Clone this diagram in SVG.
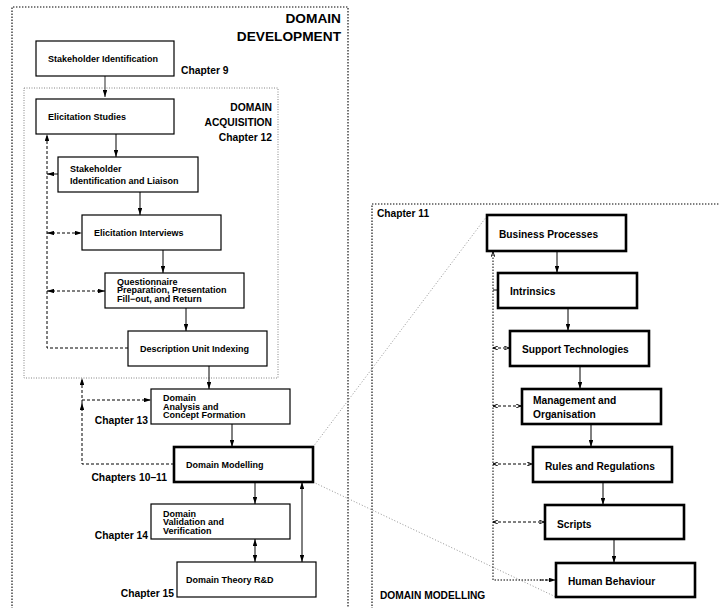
<svg xmlns="http://www.w3.org/2000/svg" width="720" height="608" viewBox="0 0 720 608">
<defs>
<style>
.bg{fill:#fff}
.n{fill:#fff;stroke:#000;stroke-width:1.2}
.nt{fill:#fff;stroke:#000;stroke-width:2.6}
.t{font-family:"Liberation Sans",Arial,sans-serif;font-weight:bold;font-size:9px;fill:#000}
.tr{font-family:"Liberation Sans",Arial,sans-serif;font-weight:bold;font-size:10.2px;fill:#000}
.ch{font-family:"Liberation Sans",Arial,sans-serif;font-weight:bold;font-size:10.3px;fill:#000}
.big{font-family:"Liberation Sans",Arial,sans-serif;font-weight:bold;font-size:13.7px;fill:#000}
.frame{fill:none;stroke:#000;stroke-width:1.1;stroke-dasharray:1.4,1.6}
.frame2{fill:none;stroke:#777;stroke-width:0.9;stroke-dasharray:1,1.5}
.zoom{fill:none;stroke:#888;stroke-width:0.9;stroke-dasharray:1,2}
.s{fill:none;stroke:#000;stroke-width:1}
.g{fill:none;stroke:#666;stroke-width:1.4}
.d{fill:none;stroke:#000;stroke-width:1;stroke-dasharray:3,2}
.dr{fill:none;stroke:#000;stroke-width:1;stroke-dasharray:1.5,1.5}
</style>
<marker id="a" viewBox="0 0 7 4.4" refX="7" refY="2.2" markerWidth="7" markerHeight="4.4" markerUnits="userSpaceOnUse" orient="auto-start-reverse"><path d="M0,0 L7,2.2 L0,4.4 z" fill="#000"/></marker>
<marker id="sm" viewBox="0 0 5 4" refX="5" refY="2" markerWidth="5" markerHeight="4" markerUnits="userSpaceOnUse" orient="auto-start-reverse"><path d="M0,0 L5,2 L0,4" fill="none" stroke="#000" stroke-width="0.9"/></marker>
</defs>
<rect class="bg" x="0" y="0" width="720" height="608"/>

<!-- frames -->
<g id="frames">
<path class="frame" d="M12,612 V7 H348 V612"/>
<rect class="frame2" x="24" y="88" width="254" height="290"/>
<path class="frame" d="M372,612 V204 H722"/>
<text class="big" x="341" y="23" text-anchor="end">DOMAIN</text>
<text class="big" x="341" y="41" text-anchor="end">DEVELOPMENT</text>
<text class="ch" x="272" y="111" text-anchor="end">DOMAIN</text>
<text class="ch" x="272" y="126" text-anchor="end">ACQUISITION</text>
<text class="ch" x="272" y="141" text-anchor="end">Chapter 12</text>
<text class="ch" x="181" y="74">Chapter 9</text>
<text class="ch" x="148" y="424" text-anchor="end">Chapter 13</text>
<text class="ch" x="167" y="481" text-anchor="end">Chapters 10–11</text>
<text class="ch" x="148" y="539" text-anchor="end">Chapter 14</text>
<text class="ch" x="174" y="597" text-anchor="end">Chapter 15</text>
<text class="tr" x="377" y="217">Chapter 11</text>
<text class="tr" x="380" y="599">DOMAIN MODELLING</text>
</g>

<!-- connectors -->
<g id="connectors">
<path class="zoom" d="M313,447 L487,216"/>
<path class="zoom" d="M313,482 L556,597"/>
<path class="g" d="M105,76 V97" marker-end="url(#a)"/>
<path class="s" d="M116,134 V157" marker-end="url(#a)"/>
<path class="s" d="M140,192 V215" marker-end="url(#a)"/>
<path class="s" d="M163,250 V273" marker-end="url(#a)"/>
<path class="s" d="M186,308 V331" marker-end="url(#a)"/>
<path class="s" d="M209,366 V389" marker-end="url(#a)"/>
<path class="s" d="M232,424 V447" marker-end="url(#a)"/>
<path class="s" d="M255,482 V504" marker-end="url(#a)"/>
<path class="s" d="M255,539 V562" marker-start="url(#a)" marker-end="url(#a)"/>
<path class="s" d="M302,482 V562" marker-start="url(#a)" marker-end="url(#a)"/>
<!-- left feedback -->
<path class="d" d="M128,348 H47 V134" marker-end="url(#a)"/>
<path class="s" d="M47,174 H58" stroke-width="1.4" marker-start="url(#a)"/>
<path class="d" d="M47,233 H82" marker-start="url(#a)" marker-end="url(#a)"/>
<path class="d" d="M47,291 H105" marker-start="url(#a)" marker-end="url(#a)"/>
<!-- middle feedback -->
<path class="d" d="M174,464 H82 V403" marker-end="url(#a)"/>
<path class="d" d="M82,403 V378" marker-end="url(#a)"/>
<path class="d" d="M82,400 H151" marker-end="url(#a)"/>
<!-- right chain -->
<path class="s" d="M557,251 V273" marker-end="url(#a)"/>
<path class="s" d="M568,308 V331" marker-end="url(#a)"/>
<path class="s" d="M580,366 V389" marker-end="url(#a)"/>
<path class="s" d="M591,424 V447" marker-end="url(#a)"/>
<path class="s" d="M603,482 V505" marker-end="url(#a)"/>
<path class="s" d="M614,539 V563" marker-end="url(#a)"/>
<!-- right feedback -->
<path class="dr" d="M556,580 H493 V252" marker-end="url(#sm)"/>
<path class="s" d="M493,290 H498" stroke-width="1.6"/>
<path class="d" d="M493,348 H509" marker-start="url(#sm)" marker-end="url(#sm)"/>
<path class="d" d="M493,406 H521" marker-start="url(#sm)" marker-end="url(#sm)"/>
<path class="d" d="M493,464 H532" marker-start="url(#sm)" marker-end="url(#sm)"/>
<path class="d" d="M493,522 H544" marker-start="url(#sm)" marker-end="url(#sm)"/>
<path class="d" d="M540,580 H556" marker-end="url(#a)"/>
</g>

<!-- left nodes -->
<g id="n-stakeholder-identification"><rect class="n" x="36" y="41" width="138" height="35"/><text class="t" x="48" y="62">Stakeholder Identification</text></g>
<g id="n-elicitation-studies"><rect class="n" x="36" y="99" width="138" height="35"/><text class="t" x="48" y="120">Elicitation Studies</text></g>
<g id="n-stakeholder-liaison"><rect class="n" x="58" y="157" width="140" height="35"/><text class="t" x="70" y="172">Stakeholder</text><text class="t" x="70" y="184">Identification and Liaison</text></g>
<g id="n-elicitation-interviews"><rect class="n" x="82" y="215" width="139" height="35"/><text class="t" x="94" y="236">Elicitation Interviews</text></g>
<g id="n-questionnaire"><rect class="n" x="105" y="273" width="139" height="35"/><text class="t" x="117" y="284.5">Questionnaire</text><text class="t" x="117" y="293">Preparation, Presentation</text><text class="t" x="117" y="301.5">Fill−out, and Return</text></g>
<g id="n-description-unit-indexing"><rect class="n" x="128" y="331" width="139" height="35"/><text class="t" x="140" y="352">Description Unit Indexing</text></g>
<g id="n-domain-analysis"><rect class="n" x="151" y="389" width="139" height="35"/><text class="t" x="163" y="401">Domain</text><text class="t" x="163" y="409.5">Analysis and</text><text class="t" x="163" y="418">Concept Formation</text></g>
<g id="n-domain-modelling"><rect class="nt" x="174" y="447" width="139" height="35"/><text class="t" x="186" y="467.5">Domain Modelling</text></g>
<g id="n-domain-validation"><rect class="n" x="151" y="504" width="139" height="35"/><text class="t" x="163" y="516.5">Domain</text><text class="t" x="163" y="525">Validation and</text><text class="t" x="163" y="533.5">Verification</text></g>
<g id="n-domain-theory"><rect class="n" x="177" y="562" width="139" height="35"/><text class="t" x="186" y="583">Domain Theory R&amp;D</text></g>

<!-- right nodes -->
<g id="n-business-processes"><rect class="nt" x="487" y="215" width="139" height="36"/><text class="tr" x="499" y="238">Business Processes</text></g>
<g id="n-intrinsics"><rect class="nt" x="498" y="273" width="139" height="35"/><text class="tr" x="510" y="295">Intrinsics</text></g>
<g id="n-support-technologies"><rect class="nt" x="510" y="331" width="139" height="35"/><text class="tr" x="522" y="353">Support Technologies</text></g>
<g id="n-management"><rect class="nt" x="522" y="389" width="139" height="35"/><text class="tr" x="533" y="404">Management and</text><text class="tr" x="533" y="417.5">Organisation</text></g>
<g id="n-rules"><rect class="nt" x="533" y="447" width="139" height="35"/><text class="tr" x="545" y="470">Rules and Regulations</text></g>
<g id="n-scripts"><rect class="nt" x="545" y="505" width="139" height="34"/><text class="tr" x="557" y="528">Scripts</text></g>
<g id="n-human-behaviour"><rect class="nt" x="556" y="563" width="139" height="34"/><text class="tr" x="568" y="585">Human Behaviour</text></g>
</svg>
